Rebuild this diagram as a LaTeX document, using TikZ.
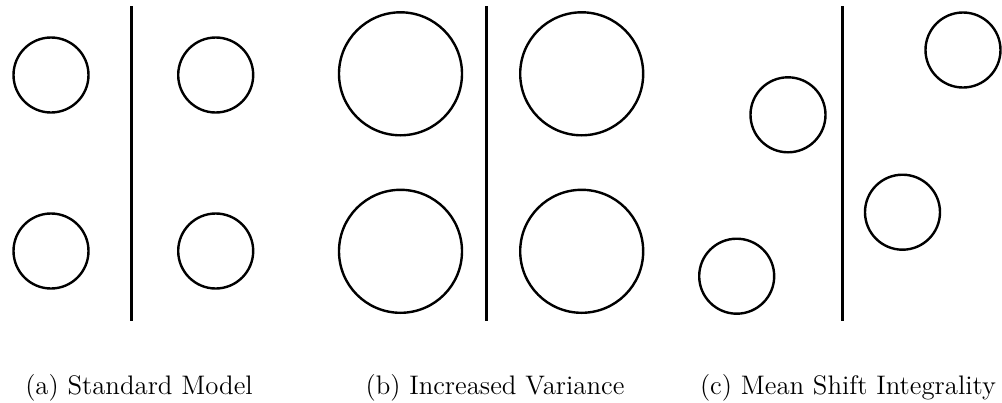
\documentclass[tikz,border=0pt]{standalone}
\usepackage{tikz}
\usetikzlibrary{positioning}
\tikzset{
  ball/.style={circle, draw=black, line width=1.2pt, inner sep=0pt, minimum size=37.5pt},
  bigball/.style={ball, minimum size=61.5pt},
  divider/.style={line width=1.5pt},
  caption/.style={font=\fontsize{13.4}{16}\selectfont, anchor=base}
}

\begin{document}
\begin{tikzpicture}[x=0.5pt, y=-0.5pt]
  \useasboundingbox (0,0) rectangle (1002,402);

  % --- Panel (a): Standard Model ---
  \coordinate (atop) at (131.3,6);
  \coordinate (abot) at (131.3,320.7);
  \draw[divider] (atop) -- (abot);
  \node[ball] (a1) at (51,75) {};
  \node[ball] (a2) at (215.7,75) {};
  \node[ball] (a3) at (51,251) {};
  \node[ball] (a4) at (215.7,251) {};
  \node[caption] (acap) at (139,394) {(a) Standard Model};

  % --- Panel (b): Increased Variance ---
  \coordinate (btop) at (486.7,6);
  \coordinate (bbot) at (486.7,320.7);
  \draw[divider] (btop) -- (bbot);
  \node[bigball] (b1) at (400.5,73.8) {};
  \node[bigball] (b2) at (581.7,73.8) {};
  \node[bigball] (b3) at (400.5,251.3) {};
  \node[bigball] (b4) at (581.7,251.3) {};
  \node[caption] (bcap) at (495,394) {(b) Increased Variance};

  % --- Panel (c): Mean Shift Integrality ---
  \coordinate (ctop) at (842.3,6);
  \coordinate (cbot) at (842.3,320.7);
  \draw[divider] (ctop) -- (cbot);
  \node[ball] (c1) at (963,50) {};
  \node[ball] (c2) at (788,114.8) {};
  \node[ball] (c3) at (902.5,212.2) {};
  \node[ball] (c4) at (736.7,276.2) {};
  \node[caption] (ccap) at (848,394) {(c) Mean Shift Integrality};
\end{tikzpicture}
\end{document}
